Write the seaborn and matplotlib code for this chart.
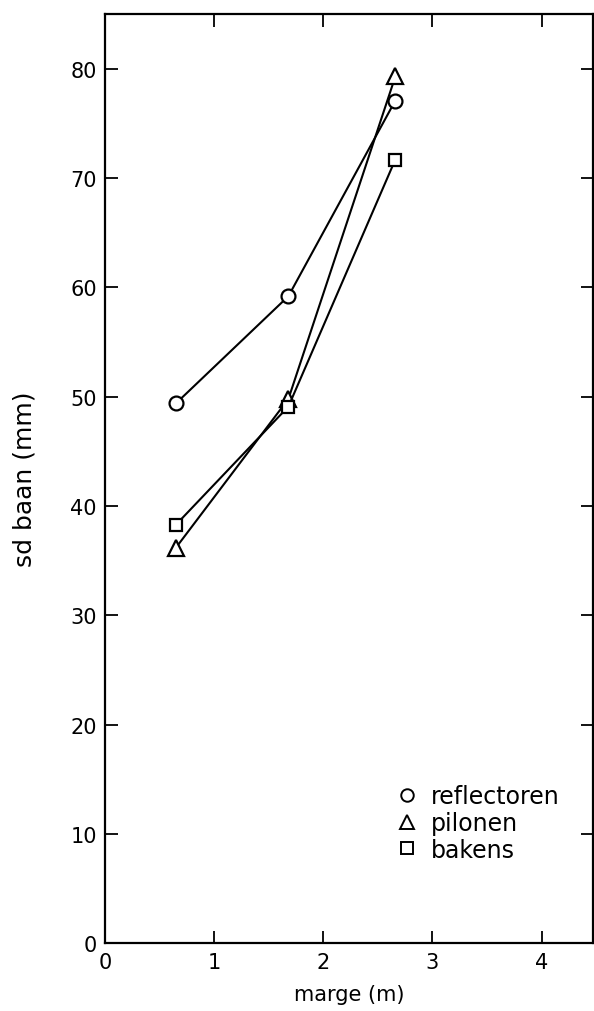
import seaborn as sns
import matplotlib.pyplot as plt
from matplotlib.lines import Line2D
import pandas as pd

sns.set_style("ticks")
plt.rcParams['font.family'] = ['DejaVu Sans']
plt.rcParams['text.color'] = 'black'
plt.rcParams['axes.labelcolor'] = 'black'
plt.rcParams['xtick.color'] = 'black'
plt.rcParams['ytick.color'] = 'black'

# marge (m) per condition
marge = [0.65, 1.68, 2.66]
# sd baan (mm)
reflectoren = [49.4, 59.2, 77.1]
pilonen = [36.2, 49.8, 79.3]
bakens = [38.3, 49.1, 71.7]

series = [
    ("reflectoren", reflectoren, "o", 10),
    ("pilonen", pilonen, "^", 11),
    ("bakens", bakens, "s", 9),
]

fig = plt.figure(figsize=(5.94, 10.12), dpi=100)
ax = fig.add_axes([0.177, 0.067, 0.821, 0.918])

handles = []
for name, vals, mk, ms in series:
    df = pd.DataFrame({'marge': marge, 'sd': vals})
    sns.lineplot(data=df, x='marge', y='sd', ax=ax, color='black', linewidth=1.5,
                 marker=mk, markersize=ms, markerfacecolor='white',
                 markeredgecolor='black', markeredgewidth=1.6)
    handles.append(Line2D([], [], linestyle='none', marker=mk, markersize=ms - 1,
                          markerfacecolor='white', markeredgecolor='black',
                          markeredgewidth=1.4, label=name))

ax.set_xlim(0, 4.47)
ax.set_ylim(0, 85)
ax.set_xticks([0, 1, 2, 3, 4])
ax.set_yticks(range(0, 90, 10))
ax.tick_params(direction='in', length=9, width=1.3, top=True, right=True,
               labelsize=15, pad=6, colors='black')
for s in ax.spines.values():
    s.set_linewidth(1.6)
    s.set_color('black')

ax.set_xlabel('marge (m)', fontsize=15, labelpad=9)
ax.set_ylabel('sd baan (mm)', fontsize=18, labelpad=24)

ax.legend(handles=handles, loc='lower right', bbox_to_anchor=(0.965, 0.07),
          frameon=False, fontsize=17, handlelength=0.8, handletextpad=0.6,
          labelspacing=0.12, borderaxespad=0.3)

fig.savefig('out.png', dpi=100)
